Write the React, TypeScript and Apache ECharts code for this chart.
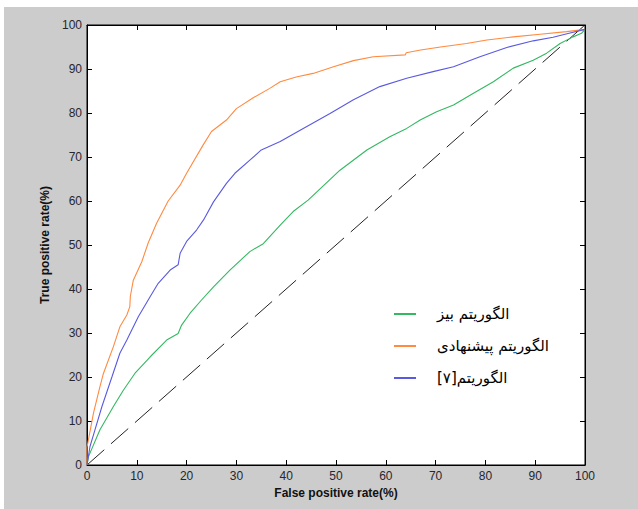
import React, { useEffect, useRef } from "react";
import * as echarts from "echarts";

const xTicks = [0, 10, 20, 30, 40, 50, 60, 70, 80, 90, 100];

const nameBayes = "الگوریتم بیز";
const nameProposed = "الگوریتم پیشنهادی";
const nameRef7 = "الگوریتم[۷]\u200F";

const proposedFpr = [0, 0, 0.5, 1.3, 2.6, 3.3, 5.3, 6.6, 8, 8.6, 8.7, 9.3, 11, 12.3, 14, 16.3, 18.7, 20, 23.3, 25, 28, 30, 33.3, 36.7, 38.8, 42, 45.4, 49.5, 53.5, 57.5, 63.9, 64.1, 67, 71, 76.2, 80.3, 85.6, 91, 96.3, 100];
const proposedTpr = [0, 4, 7, 11.8, 17.8, 20.8, 26.9, 31.4, 34.1, 36, 38.3, 42, 46.2, 50.5, 55, 60, 63.6, 66.3, 72.7, 75.8, 78.4, 81, 83.4, 85.6, 87.1, 88.2, 89, 90.5, 91.9, 92.8, 93.2, 93.7, 94.3, 95, 95.8, 96.6, 97.3, 97.9, 98.5, 99];

const ref7Fpr = [0, 0.6, 1.6, 3, 5, 6.6, 8, 10.3, 12.7, 14.3, 16.7, 18.3, 18.7, 20, 22, 23.4, 25.4, 28, 29.7, 32.7, 35, 38.8, 42.8, 48.8, 53.5, 58.8, 64.2, 69.5, 73.6, 78.9, 84.3, 89.6, 93.6, 97, 100];
const ref7Tpr = [0, 4.2, 8, 13.3, 20, 25.4, 28.4, 33.7, 38.3, 41.3, 44.3, 45.5, 48.1, 50.8, 53.4, 55.7, 59.8, 64, 66.3, 69.3, 71.6, 73.5, 76.1, 79.9, 83, 86, 87.9, 89.4, 90.5, 92.8, 94.9, 96.4, 97.2, 98.2, 99];

const bayesFpr = [0, 0.3, 2.6, 5.3, 7.3, 9.6, 12.7, 16, 18.3, 19, 20.7, 23, 25.4, 28.7, 32.7, 35.4, 38.8, 41.4, 44.4, 50.8, 56.2, 60.8, 64.2, 66.9, 70.2, 73.6, 77.6, 81.6, 85.6, 89.6, 92.3, 95, 97.6, 99.3, 100];
const bayesTpr = [0, 1.9, 8, 13.3, 17, 20.8, 24.6, 28.4, 29.9, 31.8, 34.5, 37.5, 40.5, 44.3, 48.5, 50.3, 54.5, 57.6, 60.2, 67, 71.6, 74.6, 76.5, 78.4, 80.3, 81.8, 84.5, 87.1, 90.2, 92, 93.6, 95.8, 97.3, 98.1, 99];

const chanceFpr = [0, 100];
const chanceTpr = [0, 100];

const zip = (xs: number[], ys: number[]) => xs.map((x, i) => [x, ys[i]]);

const labelFont = "'Liberation Sans', Arial, sans-serif";

function makeAxis(position: string, isX: boolean, main: boolean) {
  const a: any = {
    type: "value",
    min: xTicks[0],
    max: xTicks[xTicks.length - 1],
    interval: 10,
    position,
    axisLine: { show: true, onZero: false, lineStyle: { color: "#000", width: 1 } },
    axisTick: { show: true, inside: true, length: 5, lineStyle: { color: "#000", width: 1 } },
    axisLabel: main
      ? { show: true, margin: 5, fontSize: 12, color: "#262630", fontFamily: labelFont }
      : { show: false },
    splitLine: { show: false },
  };
  if (main) {
    a.name = isX ? "False positive rate(%)" : "True positive rate(%)";
    a.nameLocation = "middle";
    a.nameGap = isX ? 22 : 35;
    a.nameTextStyle = { fontSize: 12, fontWeight: "bold", color: "#111", fontFamily: labelFont };
  }
  return a;
}

export default function App() {
  const ref = useRef<HTMLDivElement>(null);
  useEffect(() => {
    document.body.style.margin = "0";
    const chart = echarts.init(ref.current!, null, { renderer: "svg" });
    chart.setOption({
      animation: false,
      backgroundColor: "#ffffff",
      graphic: [
        {
          type: "rect",
          z: -100,
          silent: true,
          shape: { x: 4, y: 7, width: 634, height: 502 },
          style: { fill: "#cccccc" },
        },
      ],
      grid: {
        left: 87,
        top: 25,
        width: 498,
        height: 440,
        show: true,
        backgroundColor: "#ffffff",
        borderColor: "#000",
        borderWidth: 1,
        containLabel: false,
      },
      xAxis: [makeAxis("bottom", true, true), makeAxis("top", true, false)],
      yAxis: [makeAxis("left", false, true), makeAxis("right", false, false)],
      legend: {
        data: [nameBayes, nameProposed, nameRef7],
        orient: "vertical",
        left: 389,
        top: 299,
        icon: "rect",
        itemWidth: 22,
        itemHeight: 2,
        itemGap: 12,
        textStyle: {
          fontSize: 15,
          lineHeight: 20,
          color: "#000",
          fontFamily: "'DejaVu Sans', sans-serif",
          padding: [0, 0, 0, 16],
        },
      },
      series: [
        {
          name: "chance",
          type: "line",
          data: zip(chanceFpr, chanceTpr),
          showSymbol: false,
          lineStyle: { color: "#222", width: 1, type: [23, 9] },
          z: 1,
        },
        {
          name: nameBayes,
          type: "line",
          data: zip(bayesFpr, bayesTpr),
          showSymbol: false,
          color: "#34b862",
          lineStyle: { color: "#34b862", width: 1.1 },
          z: 2,
        },
        {
          name: nameProposed,
          type: "line",
          data: zip(proposedFpr, proposedTpr),
          showSymbol: false,
          color: "#ff8a40",
          lineStyle: { color: "#ff8a40", width: 1.1 },
          z: 3,
        },
        {
          name: nameRef7,
          type: "line",
          data: zip(ref7Fpr, ref7Tpr),
          showSymbol: false,
          color: "#5a5ae0",
          lineStyle: { color: "#5a5ae0", width: 1.1 },
          z: 4,
        },
      ],
    });
    return () => chart.dispose();
  }, []);
  return <div ref={ref} style={{ width: 638, height: 509 }} />;
}
